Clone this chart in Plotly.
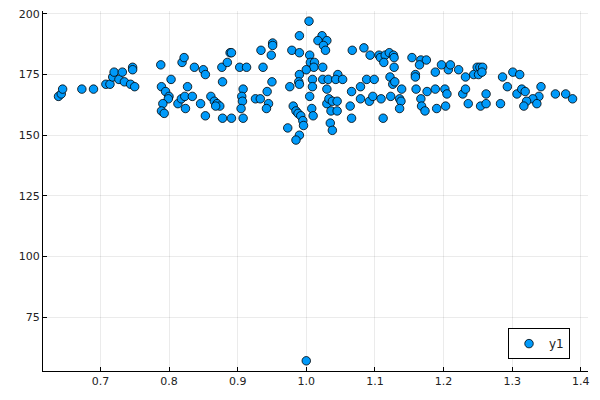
import plotly.graph_objects as go

x_vals = [
    0.639, 0.643, 0.645, 0.673, 0.690, 0.708, 0.714, 0.718, 0.720, 0.727,
    0.732, 0.735, 0.744, 0.750, 0.747, 0.747, 0.788, 0.789, 0.795, 0.800,
    0.799, 0.791, 0.789, 0.793, 0.803, 0.819, 0.822, 0.837, 0.827, 0.813,
    0.818, 0.823, 0.834, 0.824, 0.846, 0.850, 0.853, 0.853, 0.861, 0.866,
    0.870, 0.874, 0.868, 0.878, 0.891, 0.908, 0.878, 0.877, 0.885, 0.889,
    0.891, 0.903, 0.913, 0.908, 0.906, 0.907, 0.905, 0.926, 0.933, 0.943,
    0.945, 0.942, 0.937, 0.934, 0.949, 0.951, 0.951, 0.950, 1.004, 0.990,
    1.023, 1.017, 1.030, 1.025, 1.028, 0.979, 0.990, 1.067, 1.005, 1.006,
    1.012, 1.011, 1.024, 1.000, 0.990, 0.989, 0.990, 0.976, 1.009, 1.009,
    1.024, 1.032, 1.046, 1.043, 1.053, 1.030, 1.005, 0.981, 0.985, 0.988,
    0.992, 0.995, 0.996, 0.973, 0.990, 0.985, 1.008, 1.010, 1.030, 1.033,
    1.038, 1.045, 1.036, 1.045, 1.035, 1.038, 1.066, 1.064, 1.066, 1.084,
    1.093, 1.106, 1.108, 1.115, 1.121, 1.127, 1.128, 1.113, 1.128, 1.154,
    1.167, 1.175, 1.165, 1.159, 1.159, 1.188, 1.197, 1.088, 1.099, 1.079,
    1.122, 1.126, 1.129, 1.139, 1.079, 1.092, 1.097, 1.109, 1.123, 1.136,
    1.138, 1.136, 1.112, 1.160, 1.176, 1.188, 1.167, 1.168, 1.173, 1.190,
    1.207, 1.210, 1.222, 1.232, 1.244, 1.249, 1.253, 1.257, 1.251, 1.256,
    1.286, 1.301, 1.311, 1.202, 1.205, 1.228, 1.232, 1.262, 1.293, 1.307,
    1.203, 1.236, 1.254, 1.262, 1.283, 1.314, 1.319, 1.342, 1.339, 1.330,
    1.321, 1.317, 1.336, 1.363, 1.378, 1.388, 1.000,
]
y_vals = [
    166, 167, 169, 169, 169, 171, 171, 174, 176, 173,
    176, 172, 171, 170, 178, 177, 179, 170, 168, 166,
    165, 163, 160, 159, 173, 180, 182, 178, 170, 163,
    165, 166, 166, 161, 163, 177, 175, 158, 166, 164,
    163, 162, 162, 157, 157, 157, 172, 178, 180, 184,
    184, 178, 178, 169, 166, 164, 161, 165, 165, 168,
    163, 161, 178, 185, 183, 188, 187, 172, 197, 191,
    191, 189, 189, 187, 185, 185, 184, 185, 183, 180,
    180, 178, 178, 177, 175, 172, 171, 170, 173, 170,
    173, 173, 175, 173, 173, 169, 166, 162, 160, 159,
    158, 156, 154, 153, 150, 148, 161, 158, 163, 165,
    164, 164, 160, 160, 155, 152, 168, 162, 157, 186,
    183, 183, 182, 183, 184, 183, 182, 180, 178, 182,
    181, 181, 179, 175, 174, 176, 179, 173, 173, 170,
    174, 171, 172, 169, 165, 164, 166, 165, 166, 165,
    164, 161, 157, 169, 168, 169, 165, 162, 160, 161,
    177, 179, 177, 174, 175, 178, 178, 178, 175, 176,
    174, 176, 175, 169, 167, 167, 169, 167, 170, 167,
    162, 163, 162, 163, 163, 169, 168, 170, 166, 165,
    164, 162, 163, 167, 167, 165, 57,
]
series_name = "y1"
x_ticks = [0.7, 0.8, 0.9, 1.0, 1.1, 1.2, 1.3, 1.4]
y_ticks = [75, 100, 125, 150, 175, 200]

fig = go.Figure()
fig.add_trace(go.Scatter(
    x=x_vals, y=y_vals, mode="markers", name=series_name,
    marker=dict(color="#009AFA", size=8.5, line=dict(color="black", width=0.8)),
))

axis_common = dict(
    showline=True, linecolor="black", linewidth=1, mirror=False,
    showgrid=True, gridcolor="rgba(0,0,0,0.08)", gridwidth=0.5,
    ticks="inside", ticklen=4, tickcolor="black", tickwidth=1,
    zeroline=False, automargin=False,
    tickfont=dict(family="DejaVu Sans", size=11, color="#222222"),
)

fig.update_layout(
    width=600, height=400,
    margin=dict(l=43, r=12, t=11, b=29),
    plot_bgcolor="white", paper_bgcolor="white",
    showlegend=True,
    legend=dict(
        x=0.967, y=0.033, xanchor="right", yanchor="bottom",
        bordercolor="black", borderwidth=1, bgcolor="white",
        font=dict(family="DejaVu Sans", size=12, color="#222222"),
        itemwidth=30,
    ),
    xaxis=dict(range=[0.6164, 1.4105], tickvals=x_ticks,
               ticktext=[f"{v:.1f}" for v in x_ticks], **axis_common),
    yaxis=dict(range=[52.8, 201.2], tickvals=y_ticks,
               ticktext=[str(v) for v in y_ticks], **axis_common),
)

fig.write_html("out.html", config={"displayModeBar": False},
               post_script="document.body.style.margin='0';")
